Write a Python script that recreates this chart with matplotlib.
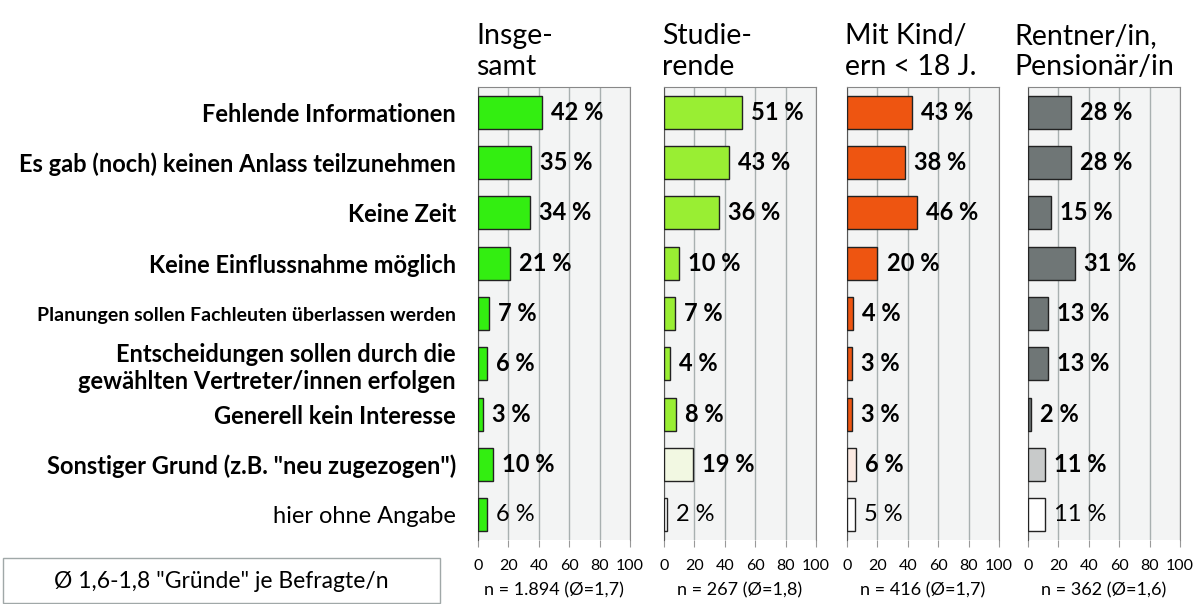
import matplotlib
matplotlib.use("Agg")
import matplotlib.pyplot as plt
from matplotlib.patches import Rectangle

plt.rcParams['font.family'] = ['Lato', 'DejaVu Sans']

# Daten
gruende = ["Fehlende Informationen",
           "Es gab (noch) keinen Anlass teilzunehmen",
           "Keine Zeit",
           "Keine Einflussnahme möglich",
           "Planungen sollen Fachleuten überlassen werden",
           "Entscheidungen sollen durch die\ngewählten Vertreter/innen erfolgen",
           "Generell kein Interesse",
           "Sonstiger Grund (z.B. \"neu zugezogen\")",
           "hier ohne Angabe"]

titel = ["Insge-\nsamt", "Studie-\nrende", "Mit Kind/\nern < 18 J.", "Rentner/in,\nPensionär/in"]
n_texte = ["n = 1.894 (Ø=1,7)", "n = 267 (Ø=1,8)", "n = 416 (Ø=1,7)", "n = 362 (Ø=1,6)"]

insgesamt = [42, 35, 34, 21, 7, 6, 3, 10, 6]
studierende = [51, 43, 36, 10, 7, 4, 8, 19, 2]
mit_kind = [43, 38, 46, 20, 4, 3, 3, 6, 5]
rentner = [28, 28, 15, 31, 13, 13, 2, 11, 11]
werte = [insgesamt, studierende, mit_kind, rentner]

farben = [
    ["#33ee11"] * 9,
    ["#99ee33"] * 7 + ["#f2f8e2", "#ffffff"],
    ["#ee5511"] * 7 + ["#fbe9e1", "#ffffff"],
    ["#6f7676"] * 7 + ["#c8caca", "#ffffff"],
]

fig = plt.figure(figsize=(11.94, 6.04), dpi=100)

links = [478, 664, 847, 1028]
titel_x = [476, 662, 845, 1014]
breite = 152
W, H = 1194, 604
oben, unten = 87, 540

for i in range(4):
    ax = fig.add_axes([links[i] / W, 1 - unten / H, breite / W, (unten - oben) / H])
    ax.set_facecolor("#f3f4f4")
    y = list(range(9))
    ax.barh(y, werte[i], height=0.66, color=farben[i], edgecolor="#222222", linewidth=1, zorder=3)
    ax.set_xlim(0, 100)
    ax.set_ylim(8.5, -0.5)
    ax.set_xticks([0, 20, 40, 60, 80, 100])
    ax.tick_params(axis="x", labelsize=11.5, length=5, color="#999999", pad=9)
    ax.tick_params(axis="y", length=0)
    ax.grid(axis="x", color="#a8b0b0", linewidth=1, zorder=0)
    for s in ["top", "right", "bottom"]:
        ax.spines[s].set_color("#888888")
    ax.spines["left"].set_color("#555555")
    ax.spines["bottom"].set_visible(False)
    for j, v in enumerate(werte[i]):
        ax.text(v + 6, j, f"{v} %", va="center", ha="left", fontsize=17,
                fontweight="bold" if j < 8 else "normal", zorder=4)
    if i == 0:
        ax.set_yticks(y)
        ax.set_yticklabels(gruende)
        for j, lab in enumerate(ax.get_yticklabels()):
            lab.set_fontsize(14 if j == 4 else 17)
            lab.set_fontweight("bold" if j < 8 else "normal")
            lab.set_horizontalalignment("right")
            lab.set_multialignment("right")
        ax.tick_params(axis="y", pad=16)
    else:
        ax.set_yticks([])
    fig.text(titel_x[i] / W, 1 - 80 / H, titel[i], ha="left", va="bottom",
             fontsize=20.5, linespacing=1.25)
    fig.text((links[i] + breite / 2) / W, 1 - 590 / H, n_texte[i], ha="center", va="center", fontsize=13)

fig.patches.append(Rectangle((3 / W, 1 - 603 / H), 437 / W, 45 / H, transform=fig.transFigure,
                             facecolor="white", edgecolor="#a0a8a8", linewidth=1))
fig.text(221 / W, 1 - 581 / H, "Ø 1,6-1,8 \"Gründe\" je Befragte/n", ha="center", va="center", fontsize=16.5)

fig.savefig("out.png", dpi=100)
